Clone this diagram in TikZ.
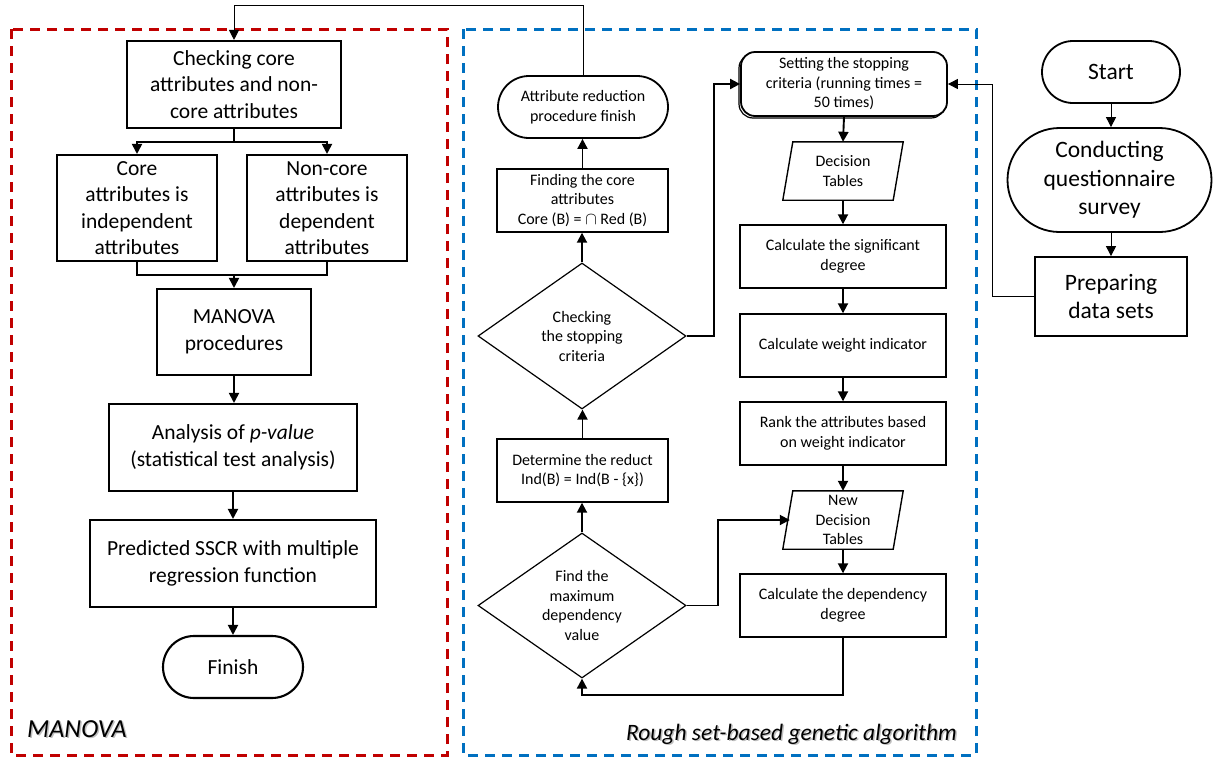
\documentclass[tikz,border=0pt]{standalone}
\usepackage{fontspec}
\setmainfont{Carlito}
\usetikzlibrary{arrows.meta,shapes.geometric,calc}

\definecolor{manovared}{RGB}{192,0,0}
\definecolor{roughblue}{RGB}{0,112,192}

\begin{document}
\begin{tikzpicture}[x=1pt,y=-1pt,
  every node/.style={inner sep=0pt, align=center},
  lbox/.style={draw, line width=2.1pt, font=\fontsize{21.5}{26.5}\selectfont},
  sbox/.style={draw, line width=1.4pt, font=\fontsize{16}{19.5}\selectfont},
  rbox/.style={draw, line width=1.8pt, font=\fontsize{23.5}{28.5}\selectfont},
  dia/.style={sbox, diamond, aspect=1.42, line width=1.2pt},
  pgram/.style={font=\fontsize{16}{19.5}\selectfont, minimum width=110pt, minimum height=58pt},
  flow/.style={line width=1.9pt, -{Triangle[length=10pt,width=10pt]}},
  plain/.style={line width=1.9pt},
  thinflow/.style={line width=1pt, -{Triangle[length=10pt,width=10pt]}},
  region/.style={line width=3pt, dash pattern=on 10pt off 7pt},
  caption/.style={font=\fontsize{#1}{#1}\selectfont\itshape}
]
\useasboundingbox (0,0) rectangle (1213,758);

% ---- group frames ----
\draw[region, manovared] (11,29) rectangle (447,755);
\draw[region, roughblue] (463,29) rectangle (976,755);

% ---- MANOVA branch ----
\node[lbox, minimum width=214pt, minimum height=87pt] (chk) at (234,84.5)
  {Checking core\\attributes and non-\\core attributes};
\node[lbox, minimum width=160pt, minimum height=106pt] (core) at (137,208)
  {Core\\attributes is\\independent\\attributes};
\node[lbox, minimum width=160pt, minimum height=106pt] (noncore) at (327,208)
  {Non-core\\attributes is\\dependent\\attributes};
\node[lbox, minimum width=154pt, minimum height=86pt] (manova) at (234,332)
  {MANOVA\\procedures};
\node[lbox, minimum width=248pt, minimum height=87pt] (analysis) at (233,447.5)
  {Analysis of \textit{p-value}\\(statistical test analysis)};
\node[lbox, minimum width=286pt, minimum height=87pt] (pred) at (233,563.5)
  {Predicted SSCR with multiple\\regression function};
\node[lbox, rounded corners=31pt, minimum width=140pt, minimum height=62pt] (finish) at (233,667)
  {Finish};

\coordinate (split) at (234,142);
\coordinate (merge) at (234,275);
\draw[plain] (chk.south) -- (split);
\draw[flow] (split) -| (core.north);
\draw[flow] (split) -| (noncore.north);
\draw[plain] (core.south) |- (merge);
\draw[plain] (noncore.south) |- (merge);
\draw[flow] (merge) -- (manova.north);
\draw[flow] (manova.south) -- (analysis.north -| manova.south);
\draw[flow] (analysis.south) -- (pred.north);
\draw[flow] (pred.south) -- (finish.north);

% ---- rough set-based genetic algorithm ----
\node[sbox, line width=1.8pt, rounded corners=31pt, minimum width=170pt, minimum height=62pt] (arf) at (583,107)
  {Attribute reduction\\procedure finish};
\node[sbox, minimum width=171pt, minimum height=63pt] (findcore) at (582.5,200.5)
  {Finding the core\\attributes\\Core (B) = $\cap$ Red (B)};
\node[dia, minimum width=208pt, minimum height=146pt] (stopchk) at (582,336)
  {Checking\\the stopping\\criteria};
\node[sbox, minimum width=171pt, minimum height=63pt] (reduct) at (582.5,470.5)
  {Determine the reduct\\Ind(B) = Ind(B - \{x\})};
\node[dia, minimum width=208pt, minimum height=145pt] (maxdep) at (582,605.5)
  {Find the\\maximum\\dependency\\value};

% stopping-criteria box with its shadow edge
\draw[line width=1.2pt, rounded corners=14pt] (739,54) rectangle (945,118);
\node[sbox, line width=1.8pt, fill=white, rounded corners=14pt, minimum width=206pt, minimum height=64pt] (setting) at (844,84)
  {Setting the stopping\\criteria (running times =\\50 times)};

\node[pgram] (dt1) at (843,171) {Decision\\Tables};
\draw[line width=1.4pt] ([xshift=5pt]dt1.north west) -- ([xshift=5pt]dt1.north east)
  -- ([xshift=-5pt]dt1.south east) -- ([xshift=-5pt]dt1.south west) -- cycle;
\node[sbox, minimum width=206pt, minimum height=63pt] (sig) at (843,256.5)
  {Calculate the significant\\degree};
\node[sbox, minimum width=206pt, minimum height=63pt] (weight) at (843,345.5)
  {Calculate weight indicator};
\node[sbox, minimum width=206pt, minimum height=63pt] (rank) at (843,433.5)
  {Rank the attributes based\\on weight indicator};
\node[pgram] (dt2) at (843,520) {New\\Decision\\Tables};
\draw[line width=1.4pt] ([xshift=5pt]dt2.north west) -- ([xshift=5pt]dt2.north east)
  -- ([xshift=-5pt]dt2.south east) -- ([xshift=-5pt]dt2.south west) -- cycle;
\node[sbox, minimum width=206pt, minimum height=63pt] (dep) at (843,605.5)
  {Calculate the dependency\\degree};

\draw[flow] (findcore.north) -- (arf.south -| findcore.north);
\draw[flow] (stopchk.north) -- (findcore.south -| stopchk.north);
\draw[flow] (reduct.north) -- (stopchk.south -| reduct.north);
\draw[flow] (maxdep.north) -- (reduct.south -| maxdep.north);
\draw[flow] (stopchk.east) -- (714,336) |- (setting.west);
\draw[flow] (setting.south) -- (dt1.north);
\draw[flow] (dt1.south) -- (sig.north);
\draw[flow] (sig.south) -- (weight.north);
\draw[flow] (weight.south) -- (rank.north);
\draw[flow] (rank.south) -- (dt2.north);
\draw[flow] (dt2.south) -- (dep.north);
\draw[flow] (dep.south) -- (843,695) -| (maxdep.south);
\draw[flow] (maxdep.east) -- (718,605.5) |- ([xshift=2pt]dt2.west);

% loop back to the MANOVA branch
\coordinate (topline) at (0,5);
\draw[thinflow] (arf.north) -- (arf.north |- topline) -| (chk.north);

% ---- data preparation ----
\node[rbox, rounded corners=31pt, minimum width=138pt, minimum height=62pt] (start) at (1111,72) {Start};
\node[rbox, rounded corners=52pt, minimum width=204pt, minimum height=104pt] (survey) at (1109.5,180)
  {Conducting\\questionnaire\\survey};
\node[rbox, minimum width=152pt, minimum height=79pt] (prep) at (1111,296.5)
  {Preparing\\data sets};
\draw[thinflow] (start.south) -- (survey.north -| start.south);
\draw[thinflow] (survey.south -| prep.north) -- (prep.north);
\draw[thinflow] (prep.west) -- (992,296.5) |- (setting.east);

% ---- group captions ----
\node[caption=26, text=black!25, anchor=base west] at (28.5,738.5) {MANOVA};
\node[caption=26, anchor=base west] (manovacap) at (27,737) {MANOVA};
\node[caption=23.5, text=black!25, anchor=base east] at (958.5,741.5) {Rough set-based genetic algorithm};
\node[caption=23.5, anchor=base east] (roughcap) at (957,740) {Rough set-based genetic algorithm};
\end{tikzpicture}
\end{document}
